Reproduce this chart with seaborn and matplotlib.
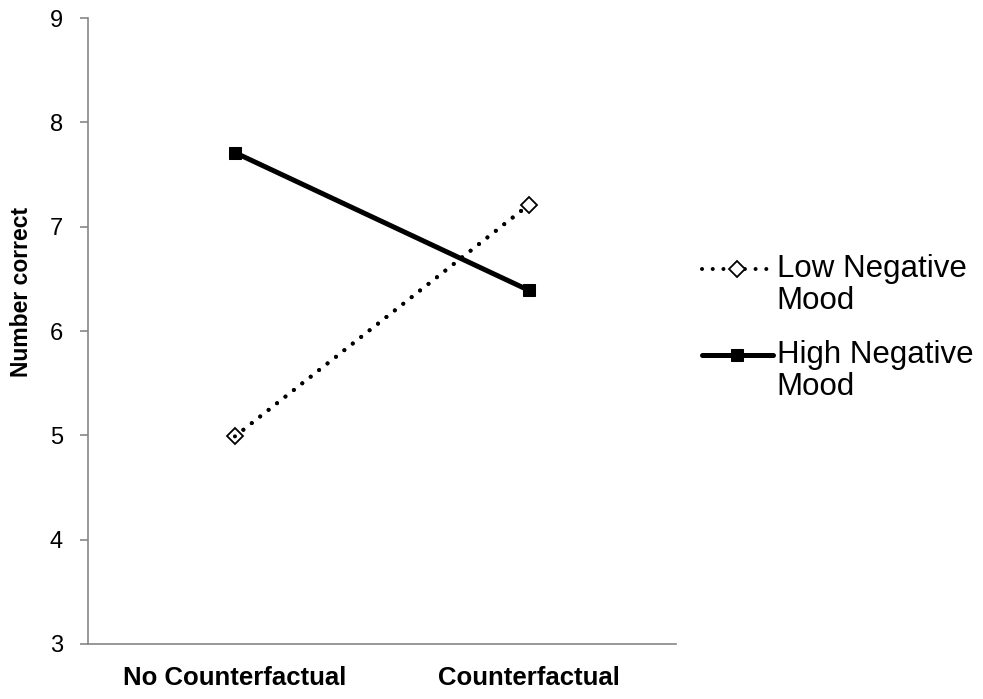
import pandas as pd
import numpy as np
import matplotlib.pyplot as plt
import seaborn as sns
from matplotlib.legend_handler import HandlerLine2D

conditions = ["No Counterfactual", "Counterfactual"]
low_mood = [4.99, 7.21]
high_mood = [7.71, 6.39]
series_names = ["Low Negative\nMood", "High Negative\nMood"]

df = pd.DataFrame({
    "pos": [0, 1, 0, 1],
    "value": low_mood + high_mood,
    "Mood": [series_names[0]] * 2 + [series_names[1]] * 2,
})


class FirstLineHandler(HandlerLine2D):
    # Excel puts the legend key next to the first line of a wrapped label
    def __init__(self, shift, **kw):
        super().__init__(**kw)
        self.shift = shift

    def create_artists(self, legend, orig_handle, xdescent, ydescent, width, height, fontsize, trans):
        arts = super().create_artists(legend, orig_handle, xdescent, ydescent, width, height, fontsize, trans)
        for a in arts:
            a.set_ydata(np.asarray(a.get_ydata()) + self.shift)
        return arts


sns.set_theme(style="white")
plt.rcParams["font.family"] = ["Liberation Sans", "DejaVu Sans"]
plt.rcParams["text.color"] = "black"
plt.rcParams["axes.labelcolor"] = "black"
plt.rcParams["xtick.color"] = "black"
plt.rcParams["ytick.color"] = "black"

fig = plt.figure(figsize=(9.83, 6.99), dpi=100)
ax = fig.add_axes([0.0895, 0.0787, 0.598, 0.8955])

dotted = dict(linestyle=(0, (0.01, 2.65)), linewidth=2.9, dash_capstyle="round")
styles = {
    series_names[0]: dict(marker="D", markersize=8, markerfacecolor="white",
                          markeredgecolor="black", markeredgewidth=1.3, **dotted),
    series_names[1]: dict(linestyle="-", linewidth=3.6, marker="s", markersize=9,
                          markerfacecolor="black", markeredgecolor="black"),
}
for name in series_names:
    sub = df[df["Mood"] == name]
    sns.lineplot(data=sub, x="pos", y="value", ax=ax, color="black", label=name,
                 **styles[name])
# dotted line redrawn above its open markers, like the Excel original
sub = df[df["Mood"] == series_names[0]]
sns.lineplot(data=sub, x="pos", y="value", ax=ax, color="black", legend=False, **dotted)

ax.set_xlim(-0.5, 1.5)
ax.set_ylim(3, 9)
ax.set_yticks(range(3, 10))
ax.set_xticks([0, 1])
ax.set_xticklabels(conditions, fontsize=18.5, fontweight="bold")
ax.set_xticks([-0.5, 0.5, 1.5], minor=True)
ax.tick_params(axis="x", which="major", length=0, pad=16)
ax.tick_params(axis="x", which="minor", length=6, width=1.2, color="#868686", direction="out")
ax.tick_params(axis="y", length=6, width=1.2, color="#868686", direction="out",
               labelsize=17, pad=12, left=True)
ax.set_xlabel("")
ax.set_ylabel("Number correct", fontsize=16.5, fontweight="bold")
ax.yaxis.set_label_coords(-0.0935, 0.562)

for s in ["top", "right"]:
    ax.spines[s].set_visible(False)
for s in ["left", "bottom"]:
    ax.spines[s].set_color("#868686")
    ax.spines[s].set_linewidth(1.2)

h, l = ax.get_legend_handles_labels()
leg = ax.legend(h, l, loc="center left", bbox_to_anchor=(1.044, 0.505), frameon=False,
                fontsize=22.5, handlelength=2.27, handletextpad=0.13, labelspacing=0.75,
                borderpad=0, borderaxespad=0,
                handler_map={hh: FirstLineHandler(12) for hh in h})
for t in leg.get_texts():
    t.set_linespacing(1.1)

fig.savefig("out.png", dpi=100)
